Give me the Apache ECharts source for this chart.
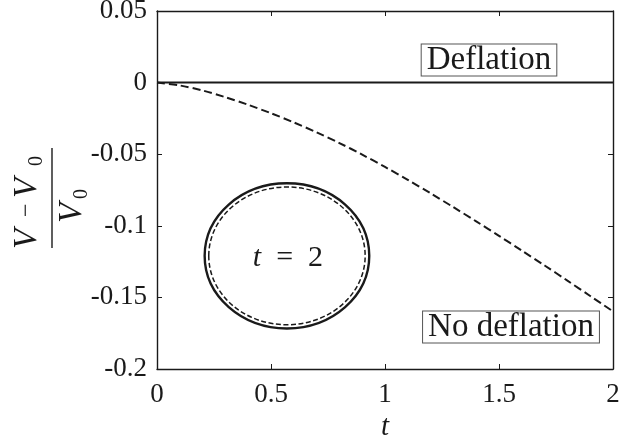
<!DOCTYPE html>
<html>
<head>
<meta charset="utf-8">
<script src="https://cdn.jsdelivr.net/npm/echarts@6/dist/echarts.min.js"></script>
<style>html,body{margin:0;padding:0;background:#fff}#c{width:619px;height:441px}</style>
</head>
<body>
<div id="c"></div>
<script>
const tValues = [0, 0.1, 0.2, 0.3, 0.4, 0.5, 0.6, 0.7, 0.8, 0.9, 1.0, 1.1, 1.2, 1.3, 1.4, 1.5, 1.6, 1.7, 1.8, 1.9, 2.0];
const deflation = [0, 0, 0, 0, 0, 0, 0, 0, 0, 0, 0, 0, 0, 0, 0, 0, 0, 0, 0, 0, 0];
const noDeflation = [0, -0.002, -0.0055, -0.0102, -0.0155, -0.0214, -0.0278, -0.0347, -0.0422, -0.0503, -0.0589, -0.0679, -0.0773, -0.0870, -0.0969, -0.1070, -0.1173, -0.1277, -0.1383, -0.1490, -0.1598];
const xTicks = [0, 0.5, 1, 1.5, 2];
const yTicks = [-0.2, -0.15, -0.1, -0.05, 0, 0.05];
// inset shape: [centre t, centre value, radius t, radius value]
const shapeSolid = [0.57, -0.121, 0.361, 0.0507];
const shapeDashed = [0.57, -0.121, 0.343, 0.0481];

const serif = 'Liberation Serif';
const ink = '#1a1a1a';
const chart = echarts.init(document.getElementById('c'), null, {renderer: 'canvas'});

const axisCommon = {
  min: 0, max: 2, interval: 0.5,
  axisLine: {show: true, onZero: false, lineStyle: {color: ink, width: 1.4}},
  axisTick: {show: true, inside: true, length: 5, lineStyle: {color: ink, width: 1}},
  splitLine: {show: false}
};
const yCommon = {
  min: -0.2, max: 0.05, interval: 0.05,
  axisLine: {show: true, onZero: false, lineStyle: {color: ink, width: 1.4}},
  axisTick: {show: true, inside: true, length: 5, lineStyle: {color: ink, width: 1}},
  splitLine: {show: false}
};

function nearest(list, v) {
  let best = list[0];
  list.forEach(function (t) { if (Math.abs(t - v) < Math.abs(best - v)) best = t; });
  return String(best);
}

const option = {
  backgroundColor: '#fff',
  animation: false,
  grid: {left: 157, right: 6, top: 11, bottom: 72, containLabel: false, outerBoundsMode: 'none'},
  xAxis: [
    Object.assign({}, axisCommon, {
      type: 'value', position: 'bottom',
      axisLabel: {margin: 12, fontFamily: serif, fontSize: 27, color: ink, formatter: function (v) { return nearest(xTicks, v); }},
      name: 't', nameLocation: 'middle', nameGap: 42,
      nameTextStyle: {fontFamily: serif, fontStyle: 'italic', fontSize: 29, color: ink}
    }),
    Object.assign({}, axisCommon, {type: 'value', position: 'top', axisLabel: {show: false}})
  ],
  yAxis: [
    Object.assign({}, yCommon, {
      type: 'value', position: 'left',
      axisLabel: {margin: 10, fontFamily: serif, fontSize: 27, color: ink, formatter: function (v) { return nearest(yTicks, v); }}
    }),
    Object.assign({}, yCommon, {type: 'value', position: 'right', axisLabel: {show: false}})
  ],
  series: [
    {
      type: 'line', name: 'Deflation', showSymbol: false, symbol: 'none',
      data: tValues.map(function (t, i) { return [t, deflation[i]]; }),
      lineStyle: {color: ink, width: 2, type: 'solid'}
    },
    {
      type: 'line', name: 'No deflation', showSymbol: false, symbol: 'none', smooth: 0.3,
      data: tValues.map(function (t, i) { return [t, noDeflation[i]]; }),
      lineStyle: {color: ink, width: 2, type: [8, 4]}
    },
    {
      type: 'custom', name: 'inset',
      data: [[shapeSolid[0], shapeSolid[1], shapeSolid[2], shapeSolid[3], shapeDashed[2], shapeDashed[3]]],
      renderItem: function (params, api) {
        const c = api.coord([api.value(0), api.value(1)]);
        const s1 = api.size([api.value(2), api.value(3)]);
        const s2 = api.size([api.value(4), api.value(5)]);
        return {
          type: 'group',
          children: [
            {type: 'ellipse', shape: {cx: c[0], cy: c[1], rx: s1[0], ry: s1[1]},
             style: {fill: null, stroke: ink, lineWidth: 2.4}},
            {type: 'ellipse', shape: {cx: c[0], cy: c[1], rx: s2[0], ry: s2[1]},
             style: {fill: null, stroke: ink, lineWidth: 1.5, lineDash: [5, 2.5]}},
            {type: 'text', x: c[0] + 1, y: c[1] + 2,
             style: {text: '{i|t}{n|\u2002=\u20022}', align: 'center', verticalAlign: 'middle',
               rich: {
                 i: {fontFamily: serif, fontStyle: 'italic', fontSize: 30, fill: ink},
                 n: {fontFamily: serif, fontSize: 30, fill: ink}
               }}}
          ]
        };
      }
    }
  ],
  graphic: [
    {type: 'text', x: 489, y: 60,
     style: {text: 'Deflation', fontFamily: serif, fontSize: 33, fill: ink, align: 'center', verticalAlign: 'middle',
       backgroundColor: '#fff', borderColor: '#555', borderWidth: 1, padding: [0, 5, 0, 5], lineHeight: 31}},
    {type: 'text', x: 511, y: 327,
     style: {text: 'No deflation', fontFamily: serif, fontSize: 33, fill: ink, align: 'center', verticalAlign: 'middle',
       backgroundColor: '#fff', borderColor: '#555', borderWidth: 1, padding: [0, 5, 0, 5], lineHeight: 31}},
    {type: 'group', x: 52, y: 198, rotation: Math.PI / 2,
     children: [
       {type: 'line', shape: {x1: -50, y1: 0, x2: 50, y2: 0}, style: {stroke: ink, lineWidth: 1.4}},
       {type: 'text', x: -51, y: -25, style: {text: 'V', fontFamily: serif, fontStyle: 'italic', fontSize: 33, fill: ink, align: 'left', verticalAlign: 'middle'}},
       {type: 'text', x: -19, y: -25, style: {text: '\u2212', fontFamily: serif, fontSize: 24, fill: ink, align: 'left', verticalAlign: 'middle'}},
       {type: 'text', x: 0, y: -25, style: {text: 'V', fontFamily: serif, fontStyle: 'italic', fontSize: 33, fill: ink, align: 'left', verticalAlign: 'middle'}},
       {type: 'text', x: 32, y: -15, style: {text: '0', fontFamily: serif, fontSize: 20, fill: ink, align: 'left', verticalAlign: 'middle'}},
       {type: 'text', x: -25, y: 20, style: {text: 'V', fontFamily: serif, fontStyle: 'italic', fontSize: 33, fill: ink, align: 'left', verticalAlign: 'middle'}},
       {type: 'text', x: -1, y: 30, style: {text: '0', fontFamily: serif, fontSize: 20, fill: ink, align: 'left', verticalAlign: 'middle'}}
     ]}
  ]
};
chart.setOption(option);
</script>
</body>
</html>
